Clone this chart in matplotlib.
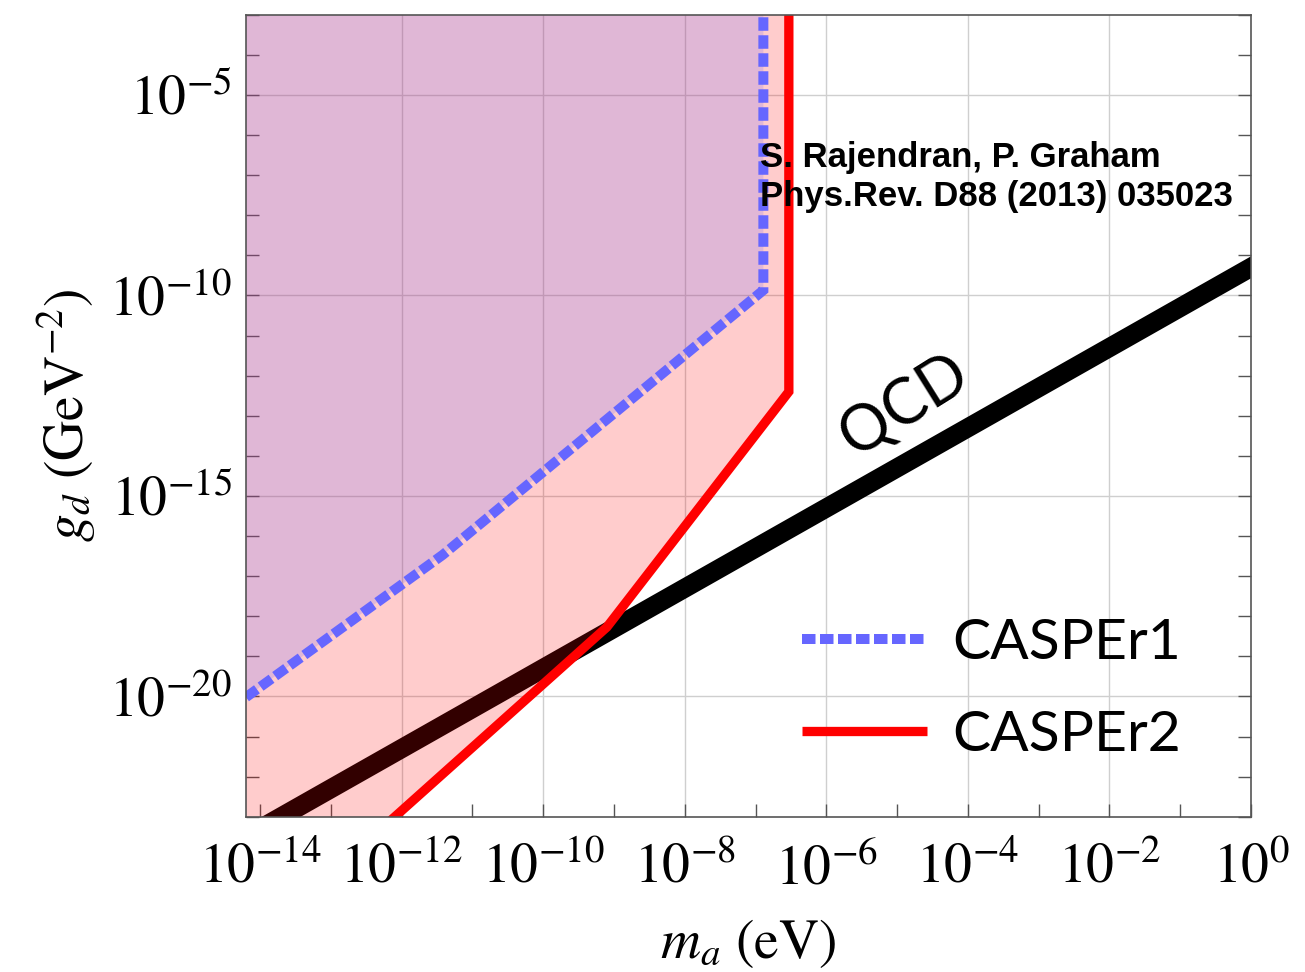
import numpy as np
import matplotlib
matplotlib.use("Agg")
import matplotlib.pyplot as plt
from matplotlib.lines import Line2D
from matplotlib.ticker import FixedLocator, NullFormatter, FuncFormatter

# ---------------- data (log10 values) ----------------
x_min_log, x_max_log = -14.2, 0.0
y_min_log, y_max_log = -23.0, -3.0

casper1_log_m = [-14.2, -11.42, -6.89, -6.89]
casper1_log_g = [-20.02, -16.47, -9.87, -3.0]

casper2_log_m = [-12.40, -9.10, -6.53, -6.53]
casper2_log_g = [-23.48, -18.27, -12.40, -3.0]

qcd_log_m = [-14.5, 0.3]
qcd_log_g = [-23.8, -9.0]

x_major_exp = [-14, -12, -10, -8, -6, -4, -2, 0]
x_minor_exp = [-13, -11, -9, -7, -5, -3, -1]
y_major_exp = [-20, -15, -10, -5]
y_minor_exp = [e for e in range(-23, -2) if e not in (-20, -15, -10, -5)]
x_grid_exp = [-12, -10, -8, -6, -4, -2]
y_grid_exp = [-20, -15, -10, -5]

legend_labels = ["CASPEr1", "CASPEr2"]
citation = ["S. Rajendran, P. Graham", "Phys.Rev. D88 (2013) 035023"]

# ---------------- style ----------------
plt.rcParams["mathtext.fontset"] = "stix"
plt.rcParams["font.family"] = ["STIXGeneral", "DejaVu Serif"]

blue = "#6666FF"
red = "#FF0000"
spine_c = "#555555"
grid_c = "#CFCFCF"

fig = plt.figure(figsize=(13.05, 9.72), dpi=100)
ax = fig.add_axes([0.18851, 0.15977, 0.77011, 0.82510])
ax.set_xscale("log")
ax.set_yscale("log")
xmin, xmax = 10 ** x_min_log, 10 ** x_max_log
ymin, ymax = 10 ** y_min_log, 10 ** y_max_log
ax.set_xlim(xmin, xmax)
ax.set_ylim(ymin, ymax)

m1 = 10 ** np.array(casper1_log_m)
g1 = 10 ** np.array(casper1_log_g)
m2 = 10 ** np.array(casper2_log_m)
g2 = 10 ** np.array(casper2_log_g)
mq = 10 ** np.array(qcd_log_m)
gq = 10 ** np.array(qcd_log_g)

# grid
for e in x_grid_exp:
    ax.axvline(10.0 ** e, color=grid_c, lw=1.0, zorder=0.5)
for e in y_grid_exp:
    ax.axhline(10.0 ** e, color=grid_c, lw=1.0, zorder=0.5)

# QCD band line
ax.plot(mq, gq, color="black", lw=13.8, solid_capstyle="butt", zorder=1)

# exclusion fills
ax.fill(np.r_[xmin, m2, xmin], np.r_[g2[0], g2, ymax], color=red, alpha=0.2,
        lw=0, zorder=2)
ax.fill(np.r_[xmin, m1, xmin], np.r_[g1[0], g1, ymax], color=blue, alpha=0.2,
        lw=0, zorder=3)

# boundary lines
ax.plot(m2, g2, color=red, lw=6.7, solid_joinstyle="miter",
        solid_capstyle="butt", zorder=4)
ax.plot(m1, g1, color=blue, lw=7.2, dashes=(1.35, 0.45),
        dash_capstyle="butt", dash_joinstyle="miter", zorder=5)

# ticks
def pow_fmt(v, pos):
    e = int(round(np.log10(v)))
    return r"$10^{%d}$" % e

ax.xaxis.set_major_locator(FixedLocator([10.0 ** e for e in x_major_exp]))
ax.xaxis.set_minor_locator(FixedLocator([10.0 ** e for e in x_minor_exp]))
ax.yaxis.set_major_locator(FixedLocator([10.0 ** e for e in y_major_exp]))
ax.yaxis.set_minor_locator(FixedLocator([10.0 ** e for e in y_minor_exp]))
ax.xaxis.set_major_formatter(FuncFormatter(pow_fmt))
ax.yaxis.set_major_formatter(FuncFormatter(pow_fmt))
ax.xaxis.set_minor_formatter(NullFormatter())
ax.yaxis.set_minor_formatter(NullFormatter())

ax.tick_params(which="both", direction="in", length=9.2, width=1.0,
               color=spine_c, top=False, right=True, labelsize=40)
ax.tick_params(axis="x", which="major", pad=19)
ax.tick_params(axis="y", which="major", pad=10)
for s in ax.spines.values():
    s.set_color(spine_c)
    s.set_linewidth(1.2)
    s.set_zorder(6)

ax.set_xlabel(r"$m_a\ (\mathrm{eV})$", fontsize=40, labelpad=16)
ax.set_ylabel(r"$g_d\ (\mathrm{GeV}^{-2})$", fontsize=40, labelpad=8)

# legend
handles = [
    Line2D([], [], color=blue, lw=7.2, dashes=(1.35, 0.45), dash_capstyle="butt"),
    Line2D([], [], color=red, lw=6.7, solid_capstyle="butt"),
]
leg = ax.legend(handles, legend_labels, loc="center left",
                bbox_to_anchor=(0.553, 0.159), frameon=False,
                prop={"family": "Lato", "size": 41}, handlelength=2.2,
                handletextpad=0.45, labelspacing=0.72, borderpad=0,
                borderaxespad=0)
leg.set_zorder(7)

# labels
ax.text(0.655, 0.513, "QCD", transform=ax.transAxes, rotation=32,
        rotation_mode="anchor", ha="center", va="center",
        family="Lato", fontsize=45, zorder=7)
ax.text(0.5114, 0.8105, citation[0], transform=ax.transAxes, ha="left",
        va="baseline", family="Liberation Sans", weight="bold",
        fontsize=25, zorder=7)
ax.text(0.5114, 0.7615, citation[1], transform=ax.transAxes, ha="left",
        va="baseline", family="Liberation Sans", weight="bold",
        fontsize=25, zorder=7)

fig.savefig("out.png", dpi=100)
